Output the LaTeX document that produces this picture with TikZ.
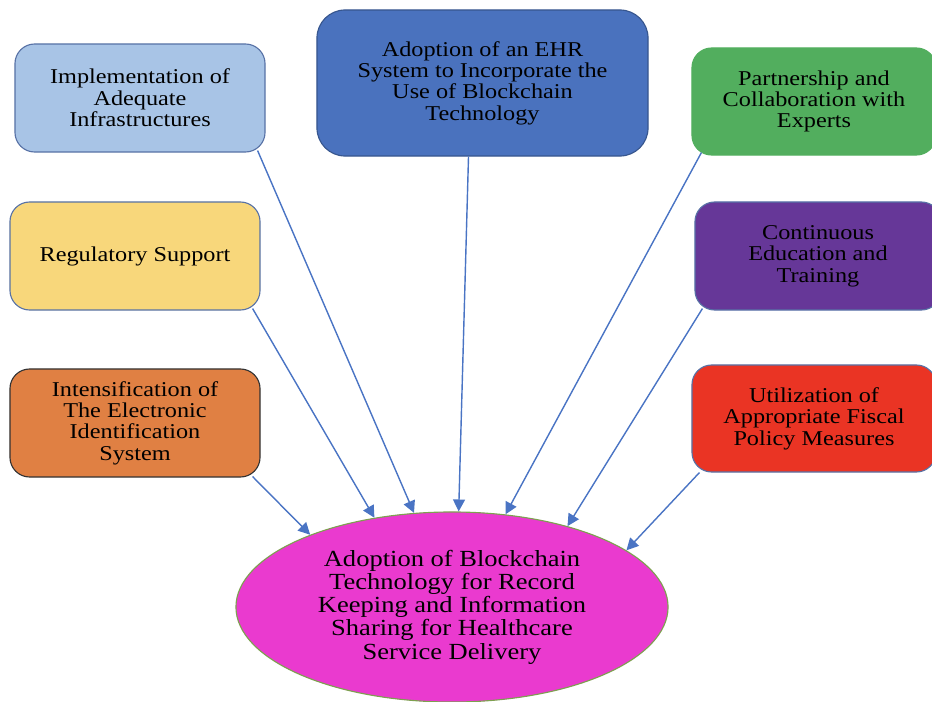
\documentclass[tikz,border=0pt]{standalone}
\usepackage{fontspec}
\setmainfont[FakeStretch=1.15]{Liberation Serif}
\usetikzlibrary{arrows.meta,calc,shapes.geometric}

\definecolor{infraFill}{HTML}{A8C4E6}
\definecolor{ehrFill}{HTML}{4A72BE}
\definecolor{partnerFill}{HTML}{52AE5E}
\definecolor{regFill}{HTML}{F8D77B}
\definecolor{trainFill}{HTML}{663798}
\definecolor{eidFill}{HTML}{E08043}
\definecolor{fiscalFill}{HTML}{EA3424}
\definecolor{goalFill}{HTML}{EA3ACF}
\definecolor{goalLine}{HTML}{7EA050}
\definecolor{boxLine}{HTML}{5872A6}
\definecolor{linkBlue}{HTML}{4A74C4}

\begin{document}
\begin{tikzpicture}[
  x=0.025cm, y=-0.025cm,
  every node/.style={font=\fontsize{15}{15.2}\selectfont},
  factor/.style={draw=boxLine, line width=0.8pt, rounded corners=14pt, align=center,
    minimum width=6.25cm, minimum height=2.7cm, inner sep=2pt},
  goal/.style={draw=goalLine, line width=0.8pt, fill=goalFill, ellipse, align=center,
    minimum width=10.8cm, minimum height=4.75cm, inner sep=0pt,
    font=\fontsize{16.4}{16.5}\selectfont},
  arrow/.style={-{Triangle[length=8.5pt,width=8.5pt]}, draw=linkBlue, fill=linkBlue, line width=1pt}
]
\useasboundingbox (0,0) rectangle (932,702);

% left column
\node[factor, fill=infraFill] (infra) at (140,98) {Implementation of\\Adequate\\Infrastructures};
\node[factor, fill=regFill] (reg) at (135,256) {Regulatory Support};
\node[factor, fill=eidFill, draw=black!80] (eid) at (135,423) {Intensification of\\The Electronic\\Identification\\System};

% top middle
\node[factor, fill=ehrFill, draw=ehrFill!75!black, rounded corners=20pt,
  minimum width=8.275cm, minimum height=3.65cm] (ehr) at (482.5,83)
  {Adoption of an EHR\\System to Incorporate the\\Use of Blockchain\\Technology};

% right column
\node[factor, fill=partnerFill, draw=partnerFill, minimum width=6.1cm, minimum height=2.675cm] (partner) at (814,101.5)
  {Partnership and\\Collaboration with\\Experts};
\node[factor, fill=trainFill, minimum width=6.15cm] (train) at (818,256) {Continuous\\Education and\\Training};
\node[factor, fill=fiscalFill, minimum width=6.1cm, minimum height=2.675cm] (fiscal) at (814,418.5)
  {Utilization of\\Appropriate Fiscal\\Policy Measures};

% outcome
\node[goal] (target) at (452,607)
  {Adoption of Blockchain\\Technology for Record\\Keeping and Information\\Sharing for Healthcare\\Service Delivery};

\draw[arrow] ($(eid.south east)+(-8,-1)$) -- (target.153);
\draw[arrow] ($(reg.south east)+(-8,-2)$) -- (target.131);
\draw[arrow] ($(infra.south east)+(-8,-2)$) -- (target.112);
\draw[arrow] ($(ehr.south)+(-14,0)$) -- (target.86);
\draw[arrow] ($(partner.south west)+(10,-3)$) -- (target.60);
\draw[arrow] ($(train.south west)+(8,-2)$) -- (target.35);
\draw[arrow] ($(fiscal.south west)+(8,0)$) -- (target.18);
\end{tikzpicture}
\end{document}
